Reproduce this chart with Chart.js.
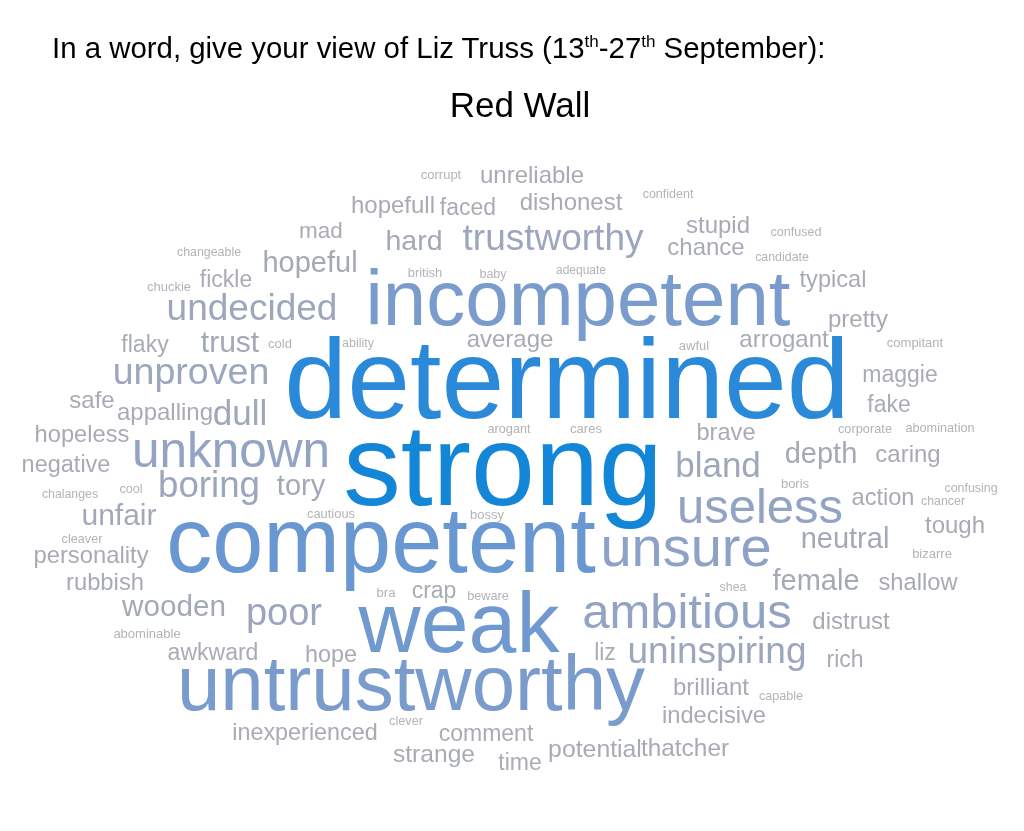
<!DOCTYPE html>
<html>
<head>
<meta charset="utf-8">
<script src="https://cdn.jsdelivr.net/npm/chart.js@4.4.1/dist/chart.umd.min.js"></script>
<style>
  body { margin: 0; background: #fff; }
  #wrap { position: relative; width: 1024px; height: 831px; }
  #nube { position: absolute; left: 0; top: 0; }
  .titulo { position: absolute; font-family: "Liberation Sans", Arial, sans-serif; color: #000; line-height: 1; white-space: nowrap; }
  #t1 { left: 52px; top: 33px; font-size: 29.4px; }
  #t1 sup { font-size: 0.58em; vertical-align: 0.62em; line-height: 0; }
  #t2 { left: 0; width: 1040px; text-align: center; top: 87px; font-size: 35px; }
</style>
</head>
<body>
<div id="wrap">
  <canvas id="nube" width="1024" height="831"></canvas>
  <div class="titulo" id="t1">In a word, give your view of Liz Truss (13<sup>th</sup>-27<sup>th</sup> September):</div>
  <div class="titulo" id="t2">Red Wall</div>
</div>
<script>
// palabras de la nube, su peso (tamaño relativo) y su sitio en el plano (unidades de los ejes)
const words = [
  "corrupt", "unreliable", "confident", "hopefull", "faced", "dishonest", "mad", "stupid", "confused",
  "changeable", "hard", "trustworthy", "chance", "candidate", "hopeful", "british", "baby", "adequate",
  "fickle", "chuckie", "typical", "undecided", "incompetent", "pretty", "flaky", "trust", "cold",
  "ability", "average", "awful", "arrogant", "compitant", "unproven", "determined", "maggie", "safe",
  "appalling", "dull", "fake", "hopeless", "arogant", "cares", "brave", "corporate", "abomination",
  "unknown", "negative", "strong", "bland", "depth", "caring", "chalanges", "cool", "boring",
  "tory", "boris", "confusing", "action", "chancer", "unfair", "cautious", "bossy", "useless",
  "tough", "cleaver", "personality", "competent", "unsure", "neutral", "bizarre", "rubbish", "female",
  "shallow", "shea", "bra", "crap", "beware", "wooden", "poor", "ambitious", "distrust",
  "abominable", "weak", "awkward", "hope", "liz", "uninspiring", "rich", "untrustworthy", "brilliant",
  "capable", "indecisive", "clever", "inexperienced", "comment", "strange", "time", "potential", "thatcher"
];
const weights = [
  13, 24, 12.5, 24, 23, 24, 22.5, 24, 12.6,
  12.4, 28.5, 37, 24, 12.4, 29, 13, 12.5, 12,
  23, 13, 23.6, 37, 78, 24, 23, 30, 13,
  12.5, 24, 13, 24, 13, 37.6, 113, 23, 24,
  24, 35, 23, 23.7, 12.7, 13, 23.6, 12.8, 12.7,
  49.5, 23.5, 115, 35, 29, 24, 12.3, 12.5, 36.7,
  29, 13, 12.4, 23.6, 12.4, 30, 12.9, 13, 49,
  24, 12.7, 23.8, 92, 56, 29, 13, 23.8, 29,
  23.7, 12.4, 13, 23, 12.7, 29.7, 38, 49, 24,
  13, 86, 23, 23.4, 23, 37, 23, 78, 24,
  12.6, 23.7, 12.7, 23.4, 23, 24.6, 23, 24.8, 24.4
];
const posX = [
  441, 532, 668, 393, 468, 571, 321, 718, 796,
  209, 414, 553, 706, 782, 310, 425, 493, 581,
  226, 169, 833, 252, 578, 858, 145, 230, 280,
  358, 510, 694, 784, 915, 191, 567, 900, 92,
  165, 240, 889, 82, 509, 586, 726, 865, 940,
  231, 66, 503, 718, 821, 908, 70, 131, 209,
  301, 795, 971, 883, 943, 119, 331, 487, 760,
  955, 82, 91, 381, 686, 845, 932, 105, 816,
  918, 733, 386, 434, 488, 174, 284, 687, 851,
  147, 459, 213, 331, 605, 717, 845, 411, 711,
  781, 714, 406, 305, 486, 434, 520, 595, 685
];
const posY = [
  179, 183, 198, 213, 215, 210, 238, 233, 236,
  256, 250, 250, 255, 261, 272, 277, 278, 274,
  287, 291, 287, 320, 325, 327, 352, 352, 348,
  347, 347, 350, 347, 347, 384, 418, 382, 408,
  420, 425, 412, 442, 433, 433, 440, 433, 432,
  467, 472, 505, 477, 463, 462, 498, 493, 497,
  495, 488, 492, 505, 505, 525, 518, 519, 523,
  533, 543, 563, 572, 566, 548, 558, 590, 590,
  590, 591, 597, 598, 600, 616, 625, 628, 629,
  638, 652, 660, 662, 660, 663, 667, 710, 695,
  700, 723, 725, 740, 741, 762, 770, 757, 756
];

// escala de color: gris para las palabras pequeñas, azul para las grandes
const tonos = [
  [12, [180, 180, 184]],
  [24, [168, 171, 180]],
  [37, [156, 166, 188]],
  [50, [146, 163, 196]],
  [78, [122, 156, 205]],
  [92, [104, 151, 210]],
  [113, [42, 137, 217]],
  [116, [8, 132, 216]]
];
function colorPara(w) {
  for (let i = 1; i < tonos.length; i++) {
    if (w <= tonos[i][0]) {
      const [w0, c0] = tonos[i - 1];
      const [w1, c1] = tonos[i];
      const t = Math.max(0, (w - w0) / (w1 - w0));
      const c = c0.map((v, k) => Math.round(v + (c1[k] - v) * t));
      return `rgb(${c[0]},${c[1]},${c[2]})`;
    }
  }
  const c = tonos[tonos.length - 1][1];
  return `rgb(${c[0]},${c[1]},${c[2]})`;
}

// plugin que escribe cada palabra en la posición del punto calculada por las escalas
const palabrasPlugin = {
  id: "palabras",
  afterDatasetsDraw(chart) {
    const ctx = chart.ctx;
    const meta = chart.getDatasetMeta(0);
    ctx.save();
    ctx.textAlign = "center";
    ctx.textBaseline = "alphabetic";
    meta.data.forEach((pt, i) => {
      ctx.font = weights[i] + 'px "Liberation Sans", Arial, sans-serif';
      ctx.fillStyle = colorPara(weights[i]);
      ctx.fillText(words[i], pt.x, pt.y);
    });
    ctx.restore();
  }
};

const puntos = words.map((w, i) => ({ x: posX[i], y: posY[i] }));

new Chart(document.getElementById("nube").getContext("2d"), {
  type: "scatter",
  data: {
    datasets: [{
      label: "palabras",
      data: puntos,
      pointRadius: 0,
      pointHoverRadius: 0
    }]
  },
  options: {
    responsive: false,
    animation: false,
    layout: { padding: 0 },
    plugins: {
      legend: { display: false },
      tooltip: { enabled: false }
    },
    scales: {
      x: { type: "linear", min: 0, max: 1024, display: false },
      y: { type: "linear", min: 0, max: 831, reverse: true, display: false }
    }
  },
  plugins: [palabrasPlugin]
});
</script>
</body>
</html>
